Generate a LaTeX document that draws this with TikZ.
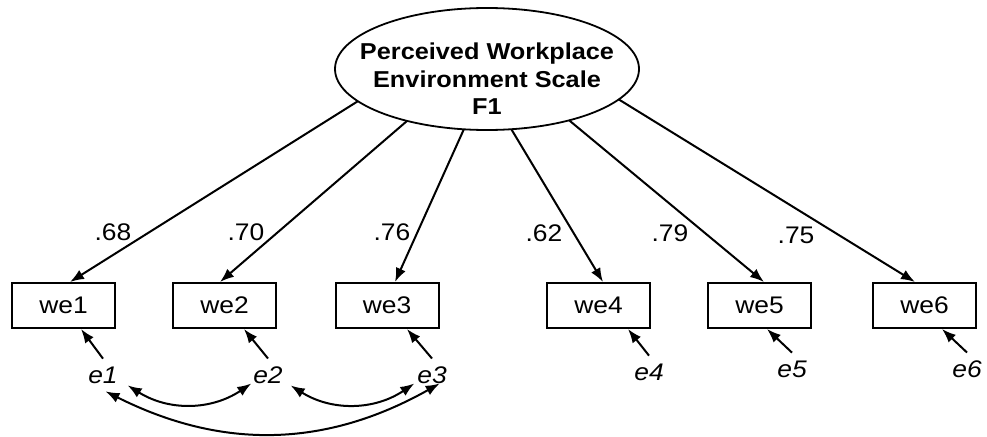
\documentclass[tikz,border=0pt]{standalone}
\usepackage{fontspec}
\setmainfont{Liberation Sans}[FakeStretch=1.1]
\usepackage{tikz}
\usetikzlibrary{arrows.meta}
\usetikzlibrary{shapes.geometric}

\tikzset{
 obs/.style={rectangle, draw=black, line width=2pt, minimum width=103pt, minimum height=45pt, inner sep=0pt, font=\fontsize{24}{28}\selectfont},
 latent/.style={ellipse, draw=black, line width=1.8pt, minimum width=304pt, minimum height=122pt, inner sep=0pt, outer sep=0pt},
 latenttext/.style={align=center, inner sep=0pt, font=\fontsize{23}{27.5}\selectfont\bfseries},
 err/.style={inner sep=0pt, outer xsep=0pt, outer ysep=8pt, font=\fontsize{24}{28}\selectfont\itshape},
 load/.style={inner sep=0pt, font=\fontsize{24}{28}\selectfont}
}

\begin{document}
\begin{tikzpicture}[x=1pt, y=-1pt, line width=2pt, >={Latex[length=14pt,width=10.5pt]}]
 \useasboundingbox (0,0) rectangle (987,436);
 % factor
 \node [latent] (F1) at (487, 69) {};
 \node [latenttext] (F1text) at (487, 79) {Perceived Workplace\\Environment Scale\\F1};
 % indicators
 \node [obs] (we1) at (63.5, 305.5) {we1};
 \node [obs] (we2) at (224.5, 305.5) {we2};
 \node [obs] (we3) at (387, 305.5) {we3};
 \node [obs] (we4) at (598.5, 305.5) {we4};
 \node [obs] (we5) at (759.5, 305.5) {we5};
 \node [obs] (we6) at (924.5, 305.5) {we6};
 % errors
 \node [err] (e1) at (103, 375) {e1};
 \node [err] (e2) at (268, 375) {e2};
 \node [err] (e3) at (432, 375) {e3};
 \node [err] (e4) at (649, 372) {e4};
 \node [err] (e5) at (792, 369) {e5};
 \node [err] (e6) at (967, 369) {e6};
 % loadings
 \node [load] (l1) at (113, 232) {.68};
 \node [load] (l2) at (246, 232) {.70};
 \node [load] (l3) at (392, 232) {.76};
 \node [load] (l4) at (544, 233) {.62};
 \node [load] (l5) at (670, 233) {.79};
 \node [load] (l6) at (796, 235) {.75};
 \draw [->] (F1.194) to ([xshift=6.5pt]we1.north);
 \draw [->] (F1.213) to ([xshift=-4.5pt]we2.north);
 \draw [->] (F1.249) to ([xshift=8pt]we3.north);
 \draw [->] (F1.292) to ([xshift=4.5pt]we4.north);
 \draw [->] (F1.328) to ([xshift=4.5pt]we5.north);
 \draw [->] (F1.347) to ([xshift=-9.5pt]we6.north);
 \draw [->] (e1.north) to ([xshift=17.5pt]we1.south);
 \draw [->] (e2.north) to ([xshift=19.5pt]we2.south);
 \draw [->] (e3.north) to ([xshift=20pt]we3.south);
 \draw [->] (e4.north) to ([xshift=29.5pt]we4.south);
 \draw [->] (e5.north) to ([xshift=7.5pt]we5.south);
 \draw [->] (e6.north) to ([xshift=17.5pt]we6.south);
 % covariances
 \draw [<->] ([xshift=10pt,yshift=6pt]e1.south east) to [bend right=33] ([xshift=-2pt,yshift=8pt]e2.south west);
 \draw [<->] ([xshift=8pt,yshift=6pt]e2.south east) to [bend right=33] ([xshift=-3pt,yshift=8pt]e3.south west);
 \draw [<->] ([xshift=2.5pt]e1.south) to [bend right=28] ([xshift=-7pt,yshift=8pt]e3.south east);
\end{tikzpicture}
\end{document}
